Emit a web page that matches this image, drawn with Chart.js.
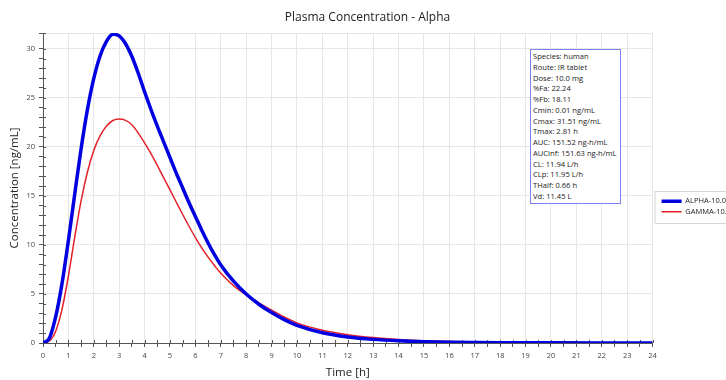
<!DOCTYPE html>
<html lang="en">
<head>
  <meta charset="UTF-8">
  <title>Plasma Concentration - Alpha</title>
  <script src="https://cdn.jsdelivr.net/npm/chart.js"></script>
  <style>
    html, body { margin: 0; padding: 0; background: #fff; overflow: hidden; width: 726px; height: 380px; }
    #wrap { position: relative; height: 380px; }
    #stats {
      position: absolute; left: 530px; top: 49px; width: 91px; height: 155px;
      box-sizing: border-box; border: 1px solid #7f7ff2; background: #fff;
      padding: 1px 0 0 2px; font: 7.6px 'Open Sans', sans-serif; line-height: 10.77px; color: #222;
      white-space: nowrap;
    }
  </style>
</head>
<body>
  <div id="wrap">
    <canvas id="pk" height="380"></canvas>
    <div id="stats"></div>
  </div>

  <script>
    const hours = [0, 0.25, 0.5, 0.75, 1, 1.25, 1.5, 1.75, 2, 2.25, 2.5, 2.75, 3, 3.25, 3.5, 3.75, 4, 4.25, 4.5, 4.75, 5,
      5.25, 5.5, 5.75, 6, 6.25, 6.5, 6.75, 7, 7.5, 8, 8.5, 9, 9.5, 10, 11, 12, 13, 14, 15, 16, 18, 20, 22, 24];
    const alpha = [0, 0.49, 2.68, 6.08, 10.45, 15.19, 19.8, 23.81, 26.97, 29.28, 30.74, 31.47, 31.3, 30.5, 29.2, 27.5, 25.6, 23.8, 22.1, 20.5, 18.9,
      17.3, 15.8, 14.3, 12.9, 11.5, 10.2, 9.0, 7.95, 6.3, 5.0, 3.95, 3.1, 2.38, 1.8, 1.05, 0.62, 0.37, 0.22, 0.13, 0.08, 0.03, 0.015, 0.01, 0.01];
    const gamma = [0, 0.2, 1.2, 3.45, 6.83, 10.78, 14.48, 17.43, 19.63, 21.13, 22.13, 22.68, 22.83, 22.7, 22.25, 21.4, 20.4, 19.3, 18.1, 16.85, 15.6,
      14.35, 13.1, 11.9, 10.75, 9.7, 8.75, 7.9, 7.1, 5.85, 4.9, 4.1, 3.35, 2.65, 2.05, 1.3, 0.85, 0.55, 0.35, 0.22, 0.15, 0.07, 0.04, 0.03, 0.02];
    const seriesNames = ['ALPHA-10.0', 'GAMMA-10.0'];
    const statLines = ['Species: human', 'Route: IR tablet', 'Dose: 10.0 mg', '%Fa: 22.24', '%Fb: 18.11',
      'Cmin: 0.01 ng/mL', 'Cmax: 31.51 ng/mL', 'Tmax: 2.81 h', 'AUC: 151.52 ng-h/mL', 'AUCinf: 151.63 ng-h/mL',
      'CL: 11.94 L/h', 'CLp: 11.95 L/h', 'THalf: 0.66 h', 'Vd: 11.45 L'];

    const FONT = "'Open Sans', sans-serif";
    const gridCol = '#e6e6e6';
    const axisCol = '#555';

    document.getElementById('stats').innerHTML = statLines.map(s => `<div>${s}</div>`).join('');

    // size the canvas so the plot ends at x=653 and the legend runs off the right edge
    const m = document.createElement('canvas').getContext('2d');
    m.font = `7.5px ${FONT}`;
    const legendW = 3 + 20 + 3.75 + Math.max(...seriesNames.map(t => m.measureText(t).width)) + 10;
    const cv = document.getElementById('pk');
    cv.width = Math.round(653 + legendW);

    const legendFrame = {
      id: 'legendFrame',
      afterLayout(chart) {
        chart.legend.left += 6;
        chart.legend.right += 6;
      },
      afterDraw(chart) {
        const lg = chart.legend;
        const hb = lg.legendHitBoxes;
        if (!hb.length) return;
        const top = Math.min(...hb.map(b => b.top)) - 7;
        const bot = Math.max(...hb.map(b => b.top + b.height)) + 7;
        const ctx = chart.ctx;
        ctx.save();
        ctx.strokeStyle = '#d6d6d6';
        ctx.lineWidth = 1;
        ctx.strokeRect(lg.left - 3.5, Math.round(top) + 0.5, 200, Math.round(bot - top));
        ctx.restore();
      }
    };

    // tick marks also poke into the plot, like the original
    const innerTicks = {
      id: 'innerTicks',
      beforeDatasetsDraw(chart) {
        const { ctx, chartArea: a, scales: { x, y } } = chart;
        ctx.save();
        ctx.strokeStyle = axisCol;
        ctx.lineWidth = 1;
        ctx.beginPath();
        x.ticks.forEach(t => {
          const px = Math.round(x.getPixelForValue(t.value)) + 0.5;
          ctx.moveTo(px, a.bottom);
          ctx.lineTo(px, a.bottom - 3);
        });
        y.ticks.forEach(t => {
          const py = Math.round(y.getPixelForValue(t.value)) + 0.5;
          ctx.moveTo(a.left, py);
          ctx.lineTo(a.left + 3, py);
        });
        ctx.stroke();
        ctx.restore();
      }
    };

    new Chart(cv, {
      type: 'line',
      data: {
        labels: hours,
        datasets: [
          { label: seriesNames[0], data: alpha, borderColor: '#0000e0', backgroundColor: '#0000e0', borderWidth: 3.5,
            pointRadius: 0, cubicInterpolationMode: 'monotone', fill: false },
          { label: seriesNames[1], data: gamma, borderColor: '#e3212a', backgroundColor: '#e3212a', borderWidth: 1.5,
            pointRadius: 0, cubicInterpolationMode: 'monotone', fill: false }
        ]
      },
      options: {
        responsive: false,
        animation: false,
        layout: { padding: 0 },
        scales: {
          x: {
            type: 'linear', min: 0, max: 24,
            ticks: { stepSize: 0.5, autoSkip: false, maxRotation: 0, padding: 4, color: '#444',
              font: { family: FONT, size: 7.5 },
              callback: v => Number.isInteger(v) ? v : '' },
            grid: { color: c => Number.isInteger(c.tick.value) ? gridCol : 'transparent',
              tickColor: axisCol, tickLength: 4 },
            border: { color: axisCol },
            title: { display: true, text: 'Time [h]', color: '#222', font: { family: FONT, size: 11.5 }, padding: { top: 0, bottom: 0 } },
            afterFit: s => { s.height = 37; }
          },
          y: {
            min: 0, max: 31.6,
            ticks: { stepSize: 1, autoSkip: false, padding: 4, color: '#444',
              font: { family: FONT, size: 7.5 },
              callback: v => v % 5 === 0 ? v : '' },
            grid: { color: c => (c.tick.value % 5 === 0 || c.tick.value === 31.6) ? gridCol : 'transparent',
              tickColor: axisCol, tickLength: 4 },
            border: { color: axisCol },
            title: { display: true, text: 'Concentration [ng/mL]', color: '#222', font: { family: FONT, size: 11.5 }, padding: { top: 8, bottom: 0 } },
            afterFit: s => { s.width = 43; }
          }
        },
        plugins: {
          title: { display: true, text: 'Plasma Concentration - Alpha', color: '#222',
            font: { family: FONT, size: 12, weight: 'normal' }, padding: { top: 10.5, bottom: 8.1 } },
          legend: {
            position: 'right',
            title: { display: true, text: ' ', font: { size: 1 }, padding: { top: 16, bottom: 16 } },
            labels: { usePointStyle: true, pointStyle: 'line', pointStyleWidth: 20, padding: 3,
              color: '#222', font: { family: FONT, size: 7.5 } }
          },
          tooltip: { enabled: false }
        }
      },
      plugins: [legendFrame, innerTicks]
    });
  </script>
</body>
</html>
